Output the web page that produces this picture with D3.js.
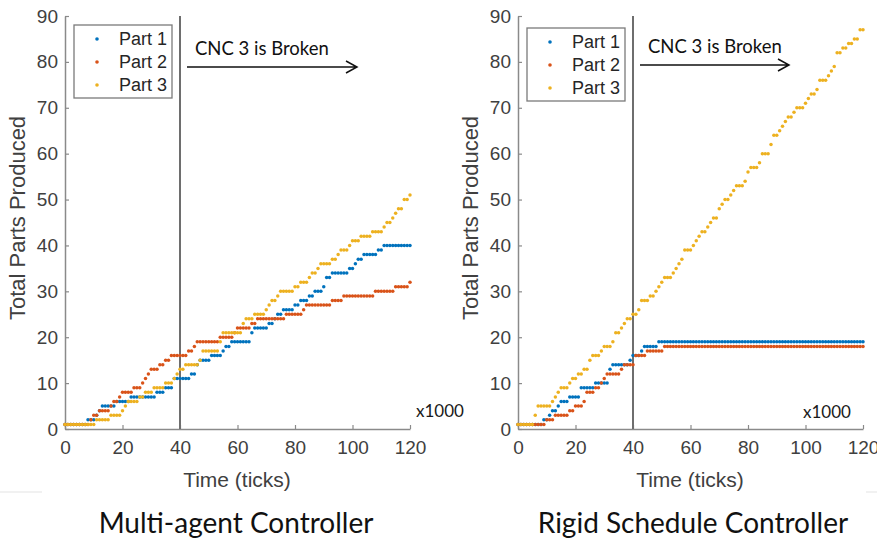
<!DOCTYPE html>
<meta charset="utf-8">
<style>
  body { margin: 0; background: #ffffff; }
  svg { display: block; }
</style>

<!-- Load d3.js -->
<script src="https://cdn.jsdelivr.net/npm/d3@7"></script>

<div id="my_dataviz"></div>

<script>

// tick labels and legend names
var xTicks = [0, 20, 40, 60, 80, 100, 120]
var yTicks = [0, 10, 20, 30, 40, 50, 60, 70, 80, 90]
var partNames = ["Part 1", "Part 2", "Part 3"]
var partColors = ["#0072BD", "#D95319", "#EDB120"]
var panelTitles = ["Multi-agent Controller", "Rigid Schedule Controller"]

// sample times (x1000 ticks)
var sampleTimes = d3.range(0, 121, 1)

// count of parts produced, read as [time, new count] at each step of the staircase
var multiPart1 = [[0,1],[8,2],[11,3],[12,4],[13,5],[18,6],[23,7],[32,8],[35,9],[38,11],[44,12],[46,14],[47,15],[51,16],[55,17],[56,18],[58,19],[65,21],[66,22],[71,23],[73,24],[74,25],[76,26],[80,27],[82,28],[85,29],[87,30],[90,31],[91,33],[93,34],[99,35],[101,36],[102,37],[104,38],[109,39],[111,40]]
var multiPart2 = [[0,1],[9,2],[10,3],[12,4],[16,5],[17,6],[19,7],[20,8],[24,9],[27,10],[28,11],[29,12],[30,13],[33,14],[35,15],[37,16],[43,17],[45,18],[46,19],[54,20],[59,21],[60,22],[65,23],[67,24],[77,25],[83,26],[84,27],[93,28],[97,29],[108,30],[115,31],[120,32]]
var multiPart3 = [[0,1],[11,2],[16,3],[20,4],[21,5],[22,6],[26,7],[28,8],[31,9],[35,10],[38,11],[39,12],[40,13],[42,14],[47,15],[48,17],[54,19],[55,21],[62,23],[63,24],[66,25],[70,26],[71,27],[72,28],[74,29],[75,30],[80,31],[82,32],[85,33],[86,34],[88,35],[89,36],[93,37],[95,38],[96,39],[99,40],[100,41],[103,42],[107,43],[111,44],[112,45],[114,46],[115,47],[116,48],[118,50],[120,51]]

var rigidPart1 = [[0,1],[9,2],[11,3],[12,4],[14,5],[15,6],[18,7],[22,9],[27,10],[32,13],[33,14],[39,15],[40,16],[43,17],[44,18],[49,19]]
var rigidPart2 = [[0,1],[10,2],[13,3],[18,4],[20,5],[23,6],[24,8],[27,9],[29,10],[30,11],[31,12],[36,13],[37,14],[41,16],[45,17],[51,18]]
var rigidPart3 = [[0,1],[6,3],[7,5],[12,6],[13,7],[14,8],[15,9],[18,10],[19,11],[21,12],[23,13],[25,15],[26,16],[29,17],[30,18],[33,19],[34,21],[36,22],[37,23],[38,24],[40,25],[42,26],[43,28],[46,29],[48,30],[49,31],[50,32],[51,33],[54,34],[55,35],[56,36],[57,37],[58,39],[61,40],[62,41],[63,42],[64,43],[66,44],[67,45],[68,46],[70,48],[71,49],[72,50],[74,51],[75,52],[76,53],[79,54],[80,56],[81,57],[84,58],[85,60],[88,62],[89,64],[91,65],[92,66],[93,67],[94,68],[96,69],[97,70],[100,71],[101,72],[102,73],[104,74],[105,76],[108,77],[109,78],[110,79],[111,82],[113,83],[115,84],[117,85],[119,87]]

var width = 877, height = 538

var svg = d3.select("#my_dataviz")
  .append("svg")
    .attr("width", width)
    .attr("height", height)
    .style("background-color", "#ffffff")

// turn the staircase steps into one dot per sample time
function samples(steps) {
  return sampleTimes.map(function(t) {
    var v = steps[0][1]
    steps.forEach(function(s) { if (s[0] <= t) v = s[1] })
    return {t: t, v: v}
  })
}

function drawPanel(left, parts, title, captionX, legendTop, arrowY, arrowLen, x1000Pos) {
  var x = d3.scaleLinear().domain([0, 120]).range([left, left + 345])
  var y = d3.scaleLinear().domain([0, 90]).range([429, 16])
  var g = svg.append("g")

  // x axis, ticks pointing inward
  g.append("g")
    .attr("transform", "translate(0,429)")
    .call(d3.axisBottom(x).tickValues(xTicks).tickSizeInner(-4).tickSizeOuter(0).tickPadding(12))
  // y axis
  g.append("g")
    .attr("transform", "translate(" + left + ",0)")
    .call(d3.axisLeft(y).tickValues(yTicks).tickSizeInner(-4).tickSizeOuter(0).tickPadding(7))

  g.selectAll(".domain").attr("stroke", "#8a8a8a").attr("stroke-width", 1.5)
  g.selectAll(".tick line").attr("stroke", "#8a8a8a").attr("stroke-width", 1.2)
  g.selectAll(".tick text")
    .style("font-family", "Liberation Sans, Arial, sans-serif")
    .style("font-size", "19px")
    .attr("fill", "#404040")

  // axis titles
  g.append("text")
    .attr("x", left + 172)
    .attr("y", 487)
    .attr("text-anchor", "middle")
    .style("font-family", "Liberation Sans, Arial, sans-serif")
    .style("font-size", "21px")
    .attr("fill", "#404040")
    .text("Time (ticks)")
  g.append("text")
    .attr("transform", "translate(" + (left - 40) + ",218) rotate(-90)")
    .attr("text-anchor", "middle")
    .style("font-family", "Liberation Sans, Arial, sans-serif")
    .style("font-size", "22px")
    .attr("fill", "#404040")
    .text("Total Parts Produced")

  g.append("text")
    .attr("x", x1000Pos[0])
    .attr("y", x1000Pos[1])
    .style("font-family", "Lato, sans-serif")
    .style("font-size", "17px")
    .attr("fill", "#1a1a1a")
    .text("x1000")

  // the breakdown line at t = 40
  g.append("line")
    .attr("x1", x(40)).attr("x2", x(40))
    .attr("y1", y(90)).attr("y2", y(0))
    .attr("stroke", "#6e6e6e")
    .attr("stroke-width", 2)

  // dots, one group per part
  parts.forEach(function(steps, i) {
    g.append("g")
      .selectAll("circle")
      .data(samples(steps))
      .enter()
      .append("circle")
        .attr("cx", function(d) { return x(d.t) })
        .attr("cy", function(d) { return y(d.v) })
        .attr("r", 1.75)
        .style("fill", partColors[i])
  })

  // annotation with arrow
  var ax0 = x(40) + 7, ax1 = x(40) + 7 + arrowLen
  g.append("text")
    .attr("x", x(40) + 15)
    .attr("y", arrowY - 12)
    .style("font-family", "Lato, sans-serif")
    .style("font-size", "18.5px")
    .attr("fill", "#111")
    .text("CNC 3 is Broken")
  g.append("path")
    .attr("d", "M" + ax0 + "," + arrowY + "H" + ax1 +
               "M" + (ax1 - 11) + "," + (arrowY - 6) + "L" + ax1 + "," + arrowY +
               "L" + (ax1 - 11) + "," + (arrowY + 6))
    .attr("fill", "none")
    .attr("stroke", "#111")
    .attr("stroke-width", 1.5)

  // legend box
  var lg = g.append("g").attr("transform", "translate(" + (left + 9) + "," + legendTop + ")")
  lg.append("rect")
    .attr("width", 98).attr("height", 73)
    .attr("fill", "#fff")
    .attr("stroke", "#7a7a7a")
    .attr("stroke-width", 1.3)
  partNames.forEach(function(name, i) {
    lg.append("circle")
      .attr("cx", 23).attr("cy", 14 + i * 23)
      .attr("r", 1.8)
      .style("fill", partColors[i])
    lg.append("text")
      .attr("x", 45).attr("y", 14 + i * 23)
      .attr("dy", "0.36em")
      .style("font-family", "Liberation Sans, Arial, sans-serif")
      .style("font-size", "18px")
      .attr("fill", "#262626")
      .text(name)
  })

  // caption under the panel
  svg.append("text")
    .attr("x", captionX)
    .attr("y", 533)
    .attr("text-anchor", "middle")
    .style("font-family", "Lato, sans-serif")
    .style("font-size", "28px")
    .attr("fill", "#111")
    .text(title)
}

drawPanel(65, [multiPart1, multiPart2, multiPart3], panelTitles[0], 236, 25, 67, 170, [416, 417])
drawPanel(518, [rigidPart1, rigidPart2, rigidPart3], panelTitles[1], 693, 28, 65, 149, [803, 418])

// faint slide separators
svg.append("line").attr("x1", 0).attr("x2", 42).attr("y1", 492).attr("y2", 492)
  .attr("stroke", "#e3e3e3")
svg.append("line").attr("x1", 866).attr("x2", 877).attr("y1", 492).attr("y2", 492)
  .attr("stroke", "#e3e3e3")

</script>
